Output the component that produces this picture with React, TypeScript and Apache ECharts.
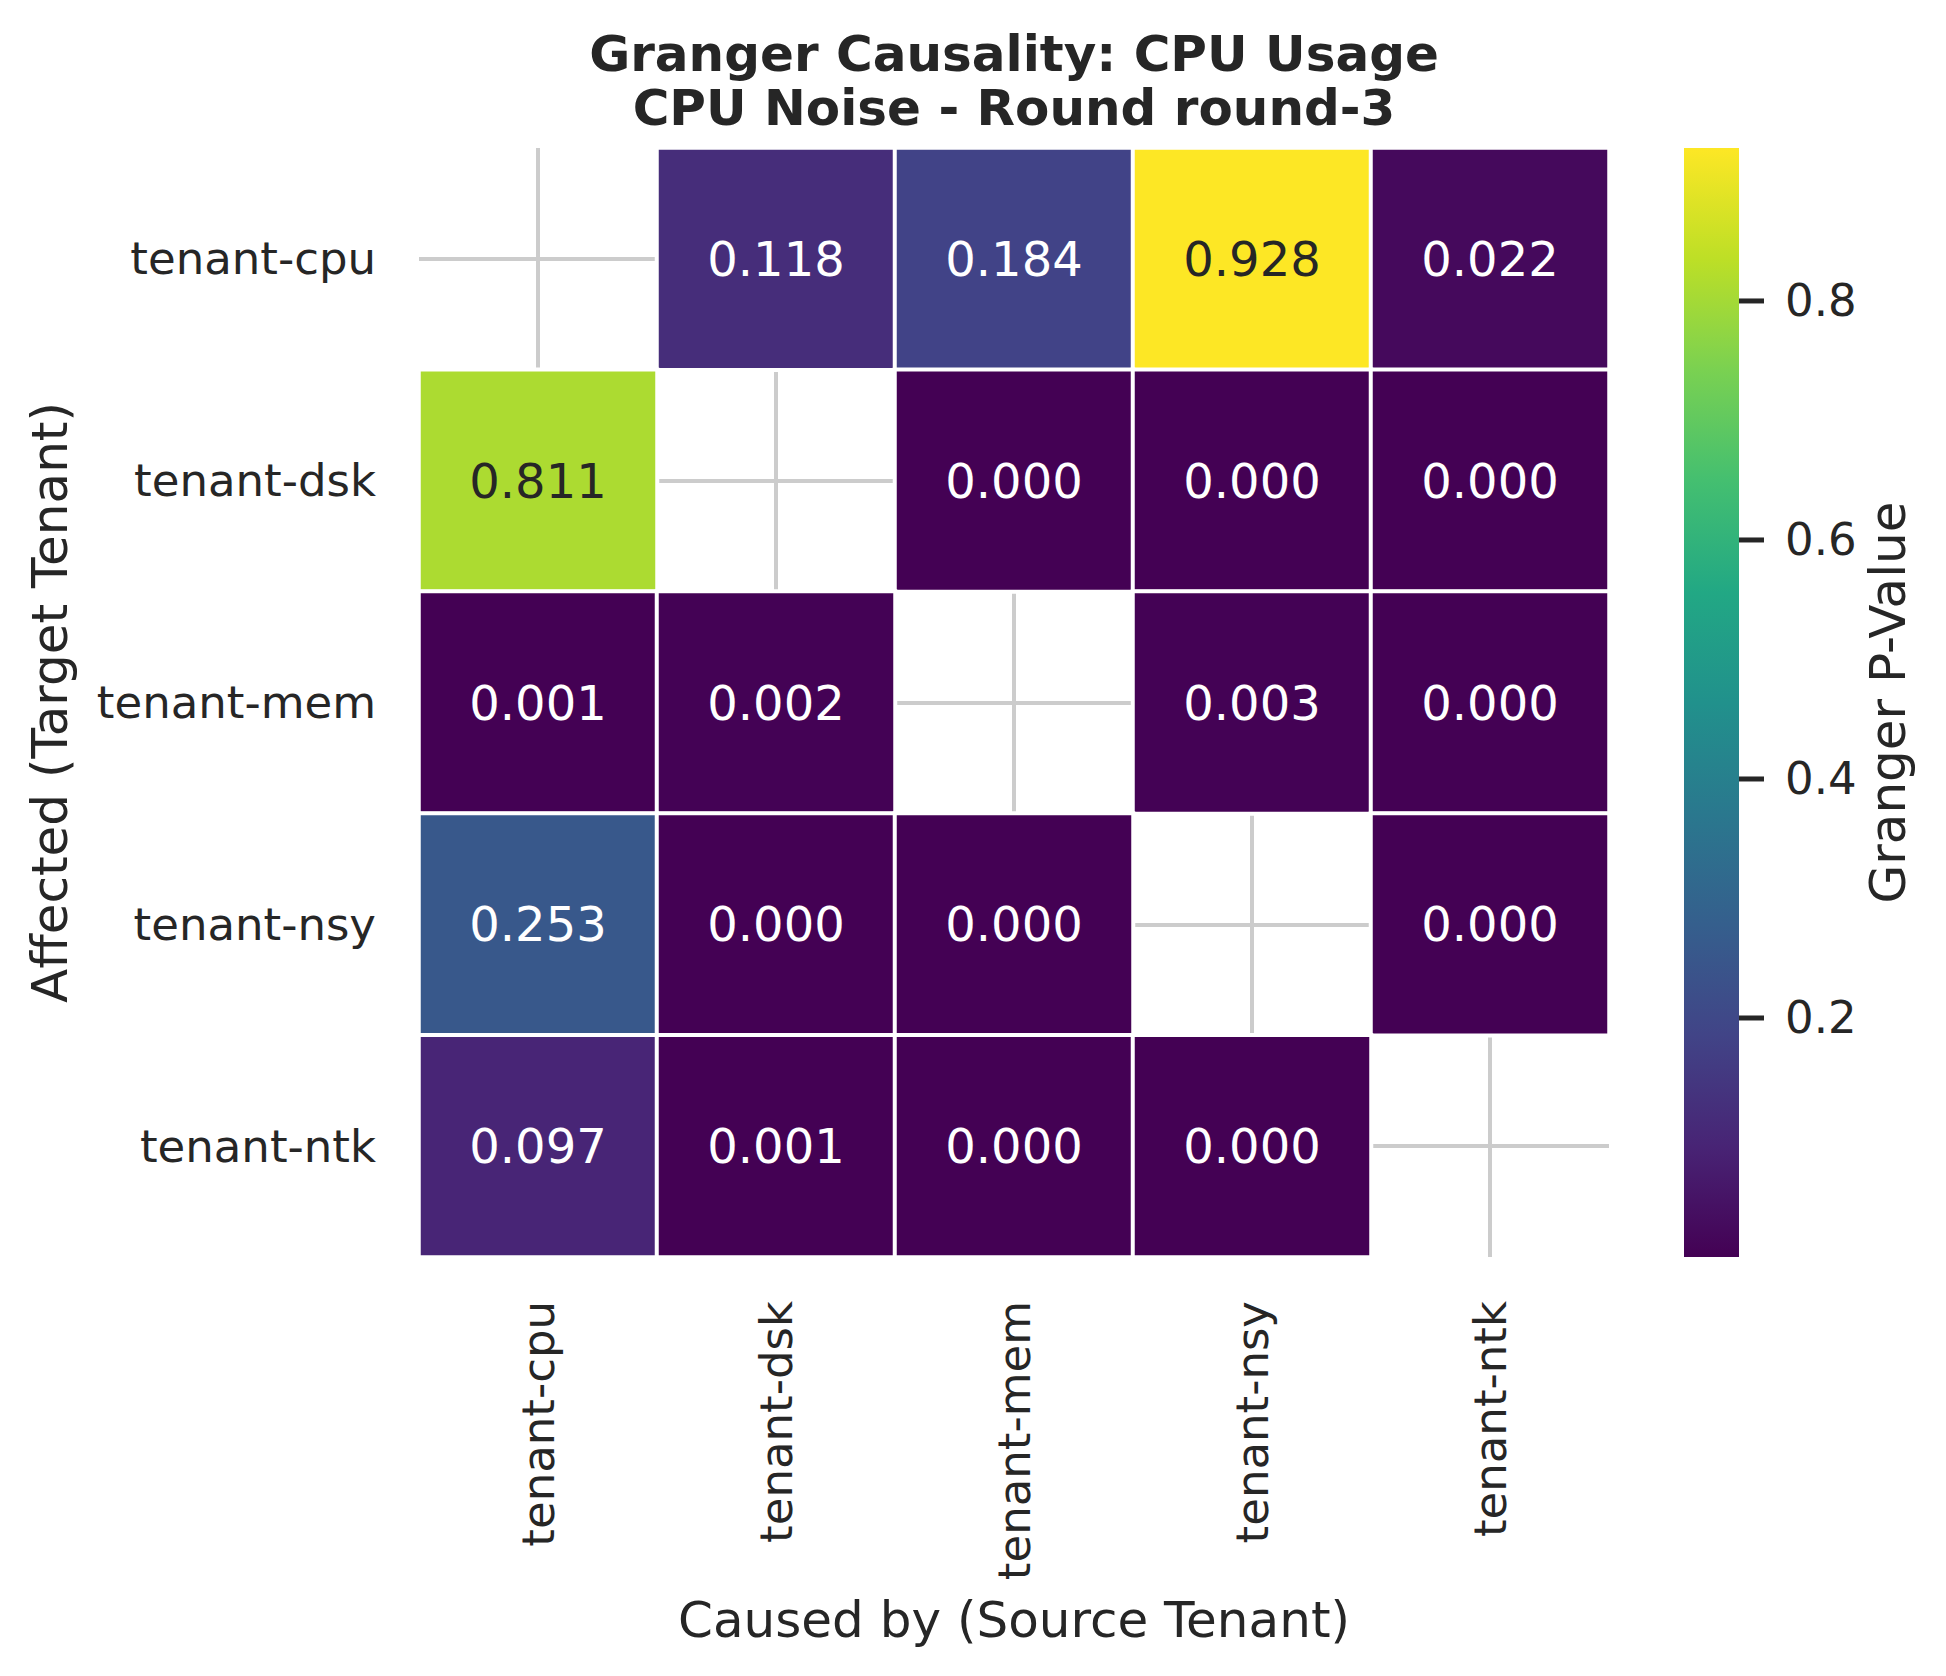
import React, { useEffect, useRef } from "react";
import * as echarts from "echarts";

const TITLE = "Granger Causality: CPU Usage\nCPU Noise - Round round-3";
const X_NAME = "Caused by (Source Tenant)";
const Y_NAME = "Affected (Target Tenant)";
const CBAR_NAME = "Granger P-Value";

const SOURCES = ["tenant-cpu", "tenant-dsk", "tenant-mem", "tenant-nsy", "tenant-ntk"];
const TARGETS = ["tenant-cpu", "tenant-dsk", "tenant-mem", "tenant-nsy", "tenant-ntk"];

// rows = target (affected), columns = source (caused by); null = diagonal (empty)
const ROW_CPU = [null, 0.118, 0.184, 0.928, 0.022];
const ROW_DSK = [0.811, null, 0.0001, 0.0001, 0.0001];
const ROW_MEM = [0.001, 0.002, null, 0.003, 0.0001];
const ROW_NSY = [0.253, 0.0001, 0.0001, null, 0.0001];
const ROW_NTK = [0.097, 0.001, 0.0001, 0.0001, null];
const MATRIX = [ROW_CPU, ROW_DSK, ROW_MEM, ROW_NSY, ROW_NTK];

const V_MIN = 0.0;
const V_MAX = 0.928;
const CBAR_TICKS = [0.2, 0.4, 0.6, 0.8];

const VIRIDIS = [
  "#440154", "#482475", "#414487", "#355f8d", "#2a788e",
  "#21918c", "#22a884", "#44bf70", "#7ad151", "#bddf26", "#fde725",
];

const FONT = "DejaVu Sans";
const TEXT = "#262626";

export default function App() {
  const ref = useRef<HTMLDivElement>(null);

  useEffect(() => {
    if (!ref.current) return;
    const chart = echarts.init(ref.current, null, { renderer: "svg" });

    const data: any[] = [];
    MATRIX.forEach((row, r) => {
      row.forEach((v, c) => {
        if (v === null) return;
        data.push({
          value: [c, r, v],
          label: { color: v > 0.5 ? TEXT : "#ffffff" },
        });
      });
    });

    const gridLeft = 419, gridTop = 148, gridW = 1190, gridH = 1109;
    const cbLeft = 1684, cbW = 55;
    const tickLen = 25;

    const option: any = {
      animation: false,
      backgroundColor: "#ffffff",
      textStyle: { fontFamily: FONT },
      title: {
        text: TITLE,
        left: 1009,
        top: 22,
        textAlign: "center",
        textStyle: {
          fontFamily: FONT,
          fontWeight: "bold",
          fontSize: 50,
          lineHeight: 54,
          color: TEXT,
        },
      },
      grid: [
        { left: gridLeft, top: gridTop, width: gridW, height: gridH },
        { left: cbLeft, top: gridTop, width: cbW, height: gridH },
      ],
      xAxis: [
        {
          type: "category",
          gridIndex: 0,
          data: SOURCES,
          position: "bottom",
          axisLine: { show: false },
          axisTick: { show: false },
          splitLine: { show: false },
          axisLabel: {
            rotate: 90,
            margin: 44,
            fontSize: 45,
            color: TEXT,
            fontFamily: FONT,
          },
          name: X_NAME,
          nameLocation: "middle",
          nameGap: 338,
          nameTextStyle: { fontSize: 50, color: TEXT, fontFamily: FONT },
        },
        {
          type: "value",
          gridIndex: 1,
          show: false,
          min: 0,
          max: 1,
        },
      ],
      yAxis: [
        {
          type: "category",
          gridIndex: 0,
          data: TARGETS,
          inverse: true,
          axisLine: { show: false },
          axisTick: { show: false },
          splitLine: { show: false },
          axisLabel: {
            margin: 43,
            fontSize: 45,
            color: TEXT,
            fontFamily: FONT,
          },
          name: Y_NAME,
          nameLocation: "middle",
          nameRotate: 90,
          nameGap: 344,
          nameTextStyle: { fontSize: 50, color: TEXT, fontFamily: FONT },
        },
        {
          type: "value",
          gridIndex: 1,
          position: "right",
          min: V_MIN,
          max: V_MAX,
          axisLine: { show: false },
          splitLine: { show: false },
          axisTick: { show: false },
          axisLabel: {
            margin: 46,
            fontSize: 45,
            color: TEXT,
            fontFamily: FONT,
            customValues: CBAR_TICKS,
            formatter: (v: number) => v.toFixed(1),
          },
          name: CBAR_NAME,
          nameLocation: "middle",
          nameRotate: 90,
          nameGap: 124,
          nameTextStyle: { fontSize: 50, color: TEXT, fontFamily: FONT },
        },
      ],
      visualMap: {
        show: false,
        type: "continuous",
        min: V_MIN,
        max: V_MAX,
        seriesIndex: 0,
        dimension: 2,
        inRange: { color: VIRIDIS },
      },
      graphic: [
        {
          type: "rect",
          shape: { x: cbLeft, y: gridTop, width: cbW, height: gridH },
          style: {
            fill: new echarts.graphic.LinearGradient(
              0, 1, 0, 0,
              VIRIDIS.map((c, i) => ({ offset: i / (VIRIDIS.length - 1), color: c }))
            ),
          },
          silent: true,
          z: 1,
        },
      ],
      series: [
        {
          type: "heatmap",
          xAxisIndex: 0,
          yAxisIndex: 0,
          data,
          z: 2,
          itemStyle: { borderColor: "#ffffff", borderWidth: 4 },
          emphasis: { disabled: true },
          label: {
            show: true,
            fontSize: 48,
            fontFamily: FONT,
            formatter: (p: any) => p.value[2].toFixed(3),
          },
        },
        {
          type: "line",
          xAxisIndex: 0,
          yAxisIndex: 0,
          data: [],
          silent: true,
          markLine: {
            silent: true,
            z: 1,
            symbol: "none",
            animation: false,
            label: { show: false },
            lineStyle: { color: "#cccccc", width: 4, type: "solid" },
            data: [
              ...TARGETS.map((t) => ({ yAxis: t })),
              ...SOURCES.map((s) => ({ xAxis: s })),
            ],
          },
        },
        {
          type: "custom",
          xAxisIndex: 1,
          yAxisIndex: 1,
          silent: true,
          clip: false,
          z: 3,
          data: CBAR_TICKS.map((v) => [1, v]),
          renderItem: (params: any, api: any) => {
            const p = api.coord([api.value(0), api.value(1)]);
            return {
              type: "line",
              shape: { x1: p[0], y1: p[1], x2: p[0] + tickLen, y2: p[1] },
              style: { stroke: TEXT, lineWidth: 5 },
            };
          },
        },
      ],
    };

    chart.setOption(option);
    return () => chart.dispose();
  }, []);

  return (
    <div
      ref={ref}
      style={{ position: "absolute", left: 0, top: 0, width: 1946, height: 1676 }}
    />
  );
}
